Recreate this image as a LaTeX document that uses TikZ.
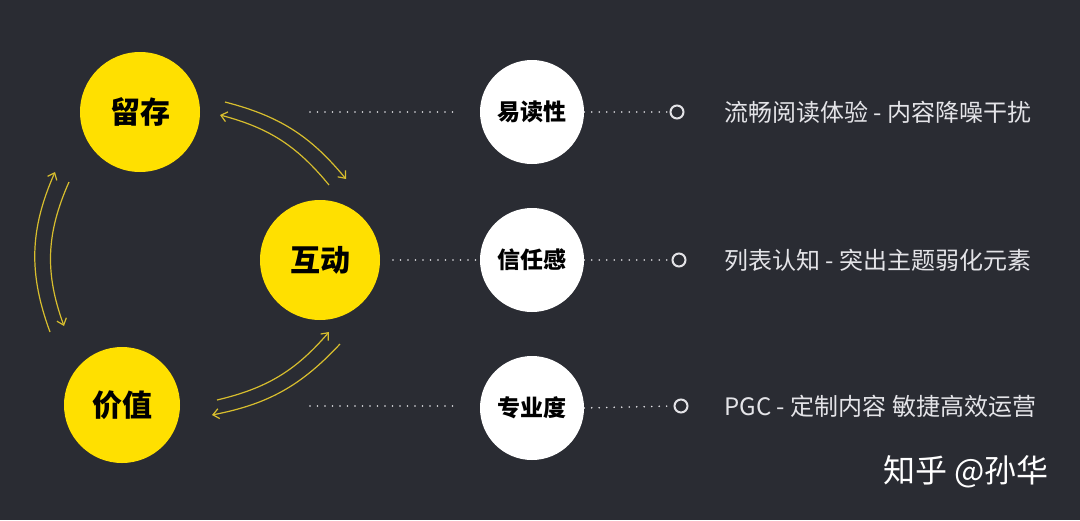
\documentclass[tikz,border=0pt]{standalone}
\usepackage{fontspec}
\setmainfont{Noto Sans CJK SC}
\usetikzlibrary{arrows.meta}
\definecolor{bg}{HTML}{2A2C33}
\definecolor{yel}{HTML}{FFE000}
\definecolor{arr}{HTML}{D8BE2E}
\definecolor{txt}{HTML}{E4E4E8}
\begin{document}
\begin{tikzpicture}[x=1pt,y=-1pt,
  ybig/.style={circle,fill=yel,minimum size=120pt,inner sep=0pt,font=\bfseries\fontsize{30}{30}\selectfont,text=black},
  wcirc/.style={circle,fill=white,minimum size=104pt,inner sep=0pt,font=\bfseries\fontsize{23}{23}\selectfont,text=black},
  ring/.style={circle,draw=txt,line width=2pt,minimum size=13pt,inner sep=0pt},
  dots/.style={txt,line width=1.8pt,dash pattern=on 0pt off 7.5pt,line cap=round},
  arw/.style={arr,line width=1.2pt,-{Straight Barb[length=6pt,width=10pt]}},
  desc/.style={anchor=west,text=txt,font=\fontsize{24}{24}\selectfont}]
\fill[bg] (0,0) rectangle (1080,520);
\useasboundingbox (0,0) rectangle (1080,520);
\node[ybig] (lc) at (140,112) {留存};
\node[ybig] (hd) at (320,260) {互动};
\node[ybig,minimum size=116pt] (jz) at (122,405) {价值};
\node[wcirc] (w1) at (532,112) {易读性};
\node[wcirc] (w2) at (532,260) {信任感};
\node[wcirc] (w3) at (532,408) {专业度};
\node[ring] (r1) at (677,112) {};
\node[ring] (r2) at (679,260) {};
\node[ring] (r3) at (681,406) {};
\coordinate (d1) at (310,112);
\coordinate (d2) at (393,260);
\coordinate (d3) at (310,406);
\draw[dots] (d1) -- (455,112);
\draw[dots] (d2) -- (w2.west);
\draw[dots] (d3) -- (455,406);
\draw[dots] (w1.east) -- (r1.west);
\draw[dots] (w2.east) -- (r2.west);
\draw[dots] (w3.east) -- (r3.west);
\node[desc] (t1) at (721,112) {流畅阅读体验 - 内容降噪干扰};
\node[desc] (t2) at (721,260) {列表认知 - 突出主题弱化元素};
\node[desc] (t3) at (721,406) {PGC - 定制内容 敏捷高效运营};
\node[text=white,font=\fontsize{32}{32}\selectfont] (wm) at (966,472) {知乎 @孙华};
% arrows
\coordinate (a1s) at (225,102); \coordinate (a1e) at (346,179);
\coordinate (a2s) at (329,185); \coordinate (a2e) at (220,115);
\draw[arw] (a1s) to[bend left=18] (a1e);
\draw[arw] (a2s) to[bend right=18] (a2e);
\coordinate (b1s) at (50,332); \coordinate (b1e) at (55,172);
\coordinate (b2s) at (69,182); \coordinate (b2e) at (64,326);
\draw[arw] (b1s) to[bend left=22] (b1e);
\draw[arw] (b2s) to[bend right=22] (b2e);
\coordinate (c1s) at (217,400); \coordinate (c1e) at (329,332);
\coordinate (c2s) at (340,344); \coordinate (c2e) at (212,415);
\draw[arw] (c1s) to[bend right=18] (c1e);
\draw[arw] (c2s) to[bend left=18] (c2e);
\end{tikzpicture}
\end{document}
